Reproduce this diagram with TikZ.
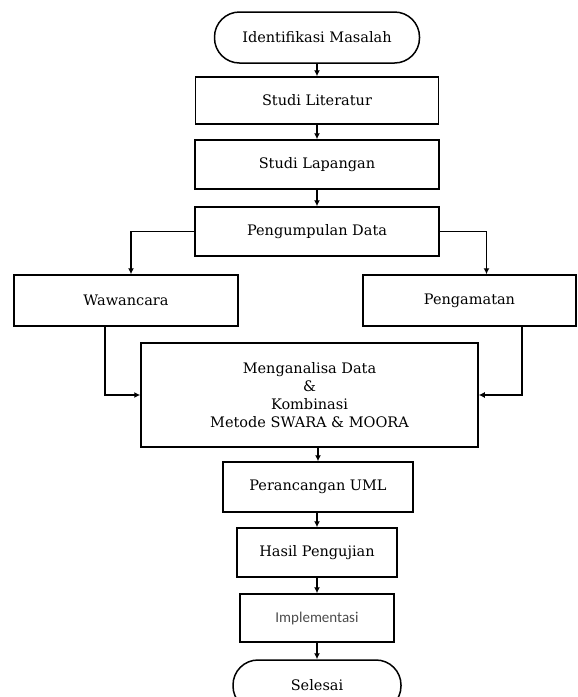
\documentclass[tikz,border=0pt]{standalone}
\usepackage{fontspec}
\setmainfont{DejaVu Serif}
\newfontfamily\calibfont{Carlito}
\usepackage{xcolor}
\usepackage{tikz}
\usetikzlibrary{arrows.meta}

\begin{document}
\begin{tikzpicture}[x=1pt,y=-1pt,
    proc/.style={draw,line width=1.5pt,inner sep=0pt,align=center,font=\fontsize{14.5}{18}\selectfont},
    term/.style={proc,rounded corners=25pt},
    arr/.style={line width=1.3pt,-{Latex[length=6pt,width=6pt]}}]
    \clip (0,0) rectangle (578,697);
    \node[term,minimum width=205pt,minimum height=51pt] (ident) at (317,37.5) {Identifikasi Masalah};
    \node[proc,minimum width=243pt,minimum height=47pt] (lit) at (317,100.5) {Studi Literatur};
    \node[proc,minimum width=244pt,minimum height=49pt] (lap) at (317,164.5) {Studi Lapangan};
    \node[proc,minimum width=244pt,minimum height=49pt] (kumpul) at (317,231.5) {Pengumpulan Data};
    \node[proc,minimum width=224pt,minimum height=51pt] (wawan) at (126,300.5) {Wawancara};
    \node[proc,minimum width=213pt,minimum height=51pt] (amat) at (469.5,300.5) {Pengamatan};
    \node[proc,minimum width=337pt,minimum height=104pt] (analisa) at (309.5,395) {Menganalisa Data\\ \&\\ Kombinasi\\ Metode SWARA \& MOORA};
    \node[proc,minimum width=190pt,minimum height=50pt] (uml) at (318,487) {Perancangan UML};
    \node[proc,minimum width=160pt,minimum height=49pt] (hasil) at (317,552.5) {Hasil Pengujian};
    \node[proc,minimum width=154pt,minimum height=48pt,font=\calibfont\fontsize{15}{18}\selectfont,text=black!70] (impl) at (317,618) {Implementasi};
    \node[term,minimum width=168pt,minimum height=51pt] (selesai) at (317,685.5) {Selesai};
    \draw[arr] (ident) -- (lit);
    \draw[arr] (lit) -- (lap);
    \draw[arr] (lap) -- (kumpul);
    \draw[arr] (kumpul.west) -| ([xshift=5pt]wawan.north);
    \draw[arr] (kumpul.east) -| ([xshift=17pt]amat.north);
    \draw[arr] ([xshift=-21pt]wawan.south) |- (analisa.west);
    \draw[arr] ([xshift=52.5pt]amat.south) |- (analisa.east);
    \draw[arr] (analisa.south -| uml.north) -- (uml.north);
    \draw[arr] (uml.south -| hasil.north) -- (hasil.north);
    \draw[arr] (hasil) -- (impl);
    \draw[arr] (impl) -- (selesai);
\end{tikzpicture}
\end{document}
